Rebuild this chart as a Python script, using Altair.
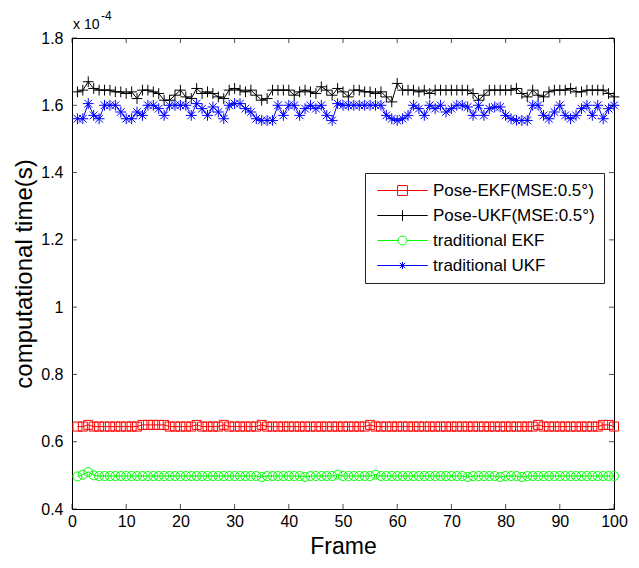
import altair as alt
import pandas as pd

frames = list(range(1, 101))
series_names = ["Pose-EKF(MSE:0.5°)", "Pose-UKF(MSE:0.5°)", "traditional EKF", "traditional UKF"]
series_colors = ["#ff0000", "#000000", "#00ff00", "#0000ff"]

# values in units of 1e-4 s
pose_ekf = [
    0.645, 0.645, 0.650, 0.645, 0.645, 0.645, 0.645, 0.645, 0.645, 0.645,
    0.645, 0.645, 0.650, 0.650, 0.650, 0.650, 0.650, 0.645, 0.645, 0.645,
    0.645, 0.645, 0.650, 0.645, 0.645, 0.645, 0.645, 0.650, 0.645, 0.645,
    0.645, 0.645, 0.645, 0.645, 0.650, 0.645, 0.645, 0.645, 0.645, 0.645,
    0.645, 0.645, 0.645, 0.645, 0.645, 0.645, 0.645, 0.645, 0.645, 0.645,
    0.645, 0.645, 0.645, 0.645, 0.650, 0.645, 0.645, 0.645, 0.645, 0.645,
    0.645, 0.645, 0.645, 0.645, 0.645, 0.645, 0.645, 0.645, 0.645, 0.645,
    0.645, 0.645, 0.645, 0.645, 0.645, 0.645, 0.645, 0.645, 0.645, 0.645,
    0.645, 0.645, 0.645, 0.645, 0.645, 0.650, 0.645, 0.645, 0.645, 0.645,
    0.645, 0.645, 0.645, 0.645, 0.645, 0.645, 0.645, 0.650, 0.650, 0.645,
]
pose_ukf = [
    1.640, 1.645, 1.670, 1.650, 1.645, 1.645, 1.645, 1.640, 1.640, 1.635,
    1.640, 1.620, 1.645, 1.645, 1.640, 1.635, 1.615, 1.615, 1.630, 1.645,
    1.625, 1.620, 1.650, 1.635, 1.640, 1.635, 1.625, 1.620, 1.645, 1.650,
    1.645, 1.640, 1.645, 1.630, 1.615, 1.620, 1.645, 1.645, 1.645, 1.645,
    1.630, 1.640, 1.645, 1.640, 1.635, 1.655, 1.645, 1.630, 1.650, 1.640,
    1.625, 1.645, 1.645, 1.640, 1.640, 1.635, 1.640, 1.625, 1.610, 1.665,
    1.645, 1.645, 1.645, 1.640, 1.645, 1.635, 1.645, 1.645, 1.645, 1.645,
    1.645, 1.645, 1.645, 1.635, 1.615, 1.630, 1.645, 1.645, 1.645, 1.645,
    1.645, 1.650, 1.635, 1.625, 1.645, 1.630, 1.625, 1.640, 1.645, 1.645,
    1.645, 1.650, 1.640, 1.640, 1.645, 1.645, 1.645, 1.645, 1.635, 1.625,
]
trad_ekf = [
    0.497, 0.502, 0.510, 0.500, 0.498, 0.498, 0.498, 0.498, 0.498, 0.498,
    0.498, 0.498, 0.498, 0.498, 0.498, 0.498, 0.498, 0.498, 0.498, 0.498,
    0.498, 0.498, 0.498, 0.498, 0.498, 0.498, 0.498, 0.498, 0.498, 0.498,
    0.498, 0.498, 0.498, 0.498, 0.495, 0.498, 0.498, 0.498, 0.498, 0.498,
    0.498, 0.498, 0.495, 0.498, 0.498, 0.498, 0.498, 0.498, 0.502, 0.498,
    0.498, 0.498, 0.498, 0.498, 0.498, 0.502, 0.498, 0.498, 0.498, 0.498,
    0.498, 0.498, 0.498, 0.498, 0.498, 0.498, 0.498, 0.498, 0.498, 0.498,
    0.498, 0.498, 0.495, 0.498, 0.498, 0.498, 0.498, 0.498, 0.495, 0.498,
    0.498, 0.498, 0.495, 0.498, 0.498, 0.498, 0.498, 0.498, 0.498, 0.498,
    0.498, 0.498, 0.498, 0.498, 0.498, 0.498, 0.498, 0.498, 0.498, 0.498,
]
trad_ukf = [
    1.560, 1.560, 1.605, 1.570, 1.560, 1.600, 1.600, 1.600, 1.580, 1.560,
    1.560, 1.580, 1.570, 1.600, 1.600, 1.590, 1.570, 1.600, 1.600, 1.600,
    1.600, 1.570, 1.605, 1.590, 1.570, 1.595, 1.580, 1.560, 1.600, 1.605,
    1.605, 1.590, 1.580, 1.560, 1.555, 1.555, 1.555, 1.600, 1.570, 1.600,
    1.600, 1.570, 1.590, 1.600, 1.590, 1.600, 1.570, 1.555, 1.605, 1.600,
    1.600, 1.600, 1.600, 1.600, 1.600, 1.600, 1.600, 1.570, 1.560, 1.555,
    1.560, 1.570, 1.600, 1.590, 1.570, 1.600, 1.590, 1.600, 1.580, 1.590,
    1.600, 1.600, 1.595, 1.570, 1.600, 1.570, 1.590, 1.595, 1.595, 1.570,
    1.560, 1.555, 1.555, 1.555, 1.600, 1.600, 1.570, 1.560, 1.580, 1.600,
    1.570, 1.560, 1.570, 1.590, 1.600, 1.570, 1.600, 1.560, 1.590, 1.600,
]

x_ticks = [0, 10, 20, 30, 40, 50, 60, 70, 80, 90, 100]
y_ticks = [0.4, 0.6, 0.8, 1.0, 1.2, 1.4, 1.6, 1.8]

marker_paths = [
    "M-1,-1L1,-1L1,1L-1,1Z",
    "M-1.2,0L1.2,0M0,-1.2L0,1.2",
    "circle",
    "M-1.2,0L1.2,0M0,-1.2L0,1.2M-0.85,-0.85L0.85,0.85M-0.85,0.85L0.85,-0.85",
]
legend_paths = [
    "M-5.6,0L5.6,0M-1.1,-1.1L1.1,-1.1L1.1,1.1L-1.1,1.1Z",
    "M-5.6,0L5.6,0M0,-1.2L0,1.2",
    "M-5.6,0L-1,0M1,0L5.6,0M1,0A1,1 0 1,1 -1,0A1,1 0 1,1 1,0Z",
    "M-5.6,0L5.6,0M0,-0.8L0,0.8M-0.6,-0.6L0.6,0.6M-0.6,0.6L0.6,-0.6",
]

rows = []
for name, vals in zip(series_names, [pose_ekf, pose_ukf, trad_ekf, trad_ukf]):
    for f, v in zip(frames, vals):
        rows.append({"frame": f, "value": v, "series": name})
df = pd.DataFrame(rows)

W, H = 542, 471
FONT = "Liberation Sans, Arial, sans-serif"

xscale = alt.Scale(domain=[0, 100], nice=False, zero=False)
yscale = alt.Scale(domain=[0.4, 1.8], nice=False, zero=False)
cscale = alt.Scale(domain=series_names, range=series_colors)

x_enc = alt.X("frame:Q", scale=xscale, title="Frame",
              axis=alt.Axis(values=x_ticks, tickSize=0, domain=False, grid=False,
                            labelFlush=False, labelOverlap=False,
                            labelFont=FONT, labelFontSize=16, labelColor="#000",
                            labelPadding=4, titleFont=FONT, titleFontSize=23,
                            titleFontWeight="normal", titleColor="#000", titlePadding=6))
y_enc = alt.Y("value:Q", scale=yscale, title="computational time(s)",
              axis=alt.Axis(values=y_ticks, format=".1~f", tickSize=0, domain=False, grid=False,
                            labelFlush=False, labelOverlap=False,
                            labelFont=FONT, labelFontSize=16, labelColor="#000",
                            labelPadding=9, titleFont=FONT, titleFontSize=24,
                            titleFontWeight="normal", titleColor="#000", titlePadding=4))

lines = alt.Chart(df).mark_line(strokeWidth=1).encode(
    x=x_enc, y=y_enc,
    color=alt.Color("series:N", scale=cscale, legend=None),
    detail="series:N",
)
points = alt.Chart(df).mark_point(filled=False, size=81, strokeWidth=1, opacity=1).encode(
    x=alt.X("frame:Q", scale=xscale),
    y=alt.Y("value:Q", scale=yscale),
    color=alt.Color("series:N", scale=cscale, legend=None),
    shape=alt.Shape("series:N", scale=alt.Scale(domain=series_names, range=marker_paths), legend=None),
)
legend_layer = alt.Chart(df).transform_filter("datum.frame < 0").mark_point(
    filled=False, size=81, strokeWidth=1).encode(
    x=alt.X("frame:Q", scale=xscale),
    y=alt.Y("value:Q", scale=yscale),
    color=alt.Color("series:N", scale=cscale, legend=alt.Legend(
        title=None, orient="none", legendX=293, legendY=135,
        fillColor="white", strokeColor="#222", padding=9,
        symbolSize=81, symbolStrokeWidth=1, symbolOffset=20, symbolOpacity=1,
        labelFont=FONT, labelFontSize=17, labelColor="#000", labelOffset=22,
        labelLimit=400, rowPadding=7)),
    shape=alt.Shape("series:N", scale=alt.Scale(domain=series_names, range=legend_paths)),
)

tk_y = pd.DataFrame({"value": y_ticks})
tk_x = pd.DataFrame({"frame": x_ticks})
tick_left = alt.Chart(tk_y).mark_tick(color="black", size=5, thickness=1, orient="horizontal").encode(
    y=alt.Y("value:Q", scale=yscale), x=alt.value(2.5))
tick_right = alt.Chart(tk_y).mark_tick(color="black", size=5, thickness=1, orient="horizontal").encode(
    y=alt.Y("value:Q", scale=yscale), x=alt.value(W - 2.5))
tick_bottom = alt.Chart(tk_x).mark_tick(color="black", size=5, thickness=1, orient="vertical").encode(
    x=alt.X("frame:Q", scale=xscale), y=alt.value(H - 2.5))
tick_top = alt.Chart(tk_x).mark_tick(color="black", size=5, thickness=1, orient="vertical").encode(
    x=alt.X("frame:Q", scale=xscale), y=alt.value(2.5))

exp_base = alt.Chart(pd.DataFrame({"t": ["x 10"]})).mark_text(
    font=FONT, fontSize=14, align="left", baseline="alphabetic", color="black").encode(
    text="t:N", x=alt.value(1), y=alt.value(-9))
exp_pow = alt.Chart(pd.DataFrame({"t": ["-4"]})).mark_text(
    font=FONT, fontSize=12, align="left", baseline="alphabetic", color="black").encode(
    text="t:N", x=alt.value(29), y=alt.value(-18))

chart = alt.layer(
    lines, points, legend_layer, tick_left, tick_right, tick_bottom, tick_top, exp_base, exp_pow
).resolve_scale(
    color="independent", shape="independent"
).properties(
    width=W, height=H, autosize="none",
    padding={"left": 64, "top": 30, "right": 17, "bottom": 50},
    background="white",
).configure_view(stroke="black", strokeWidth=1)

chart.save("out.html", embed_options={"renderer": "svg", "actions": False})
